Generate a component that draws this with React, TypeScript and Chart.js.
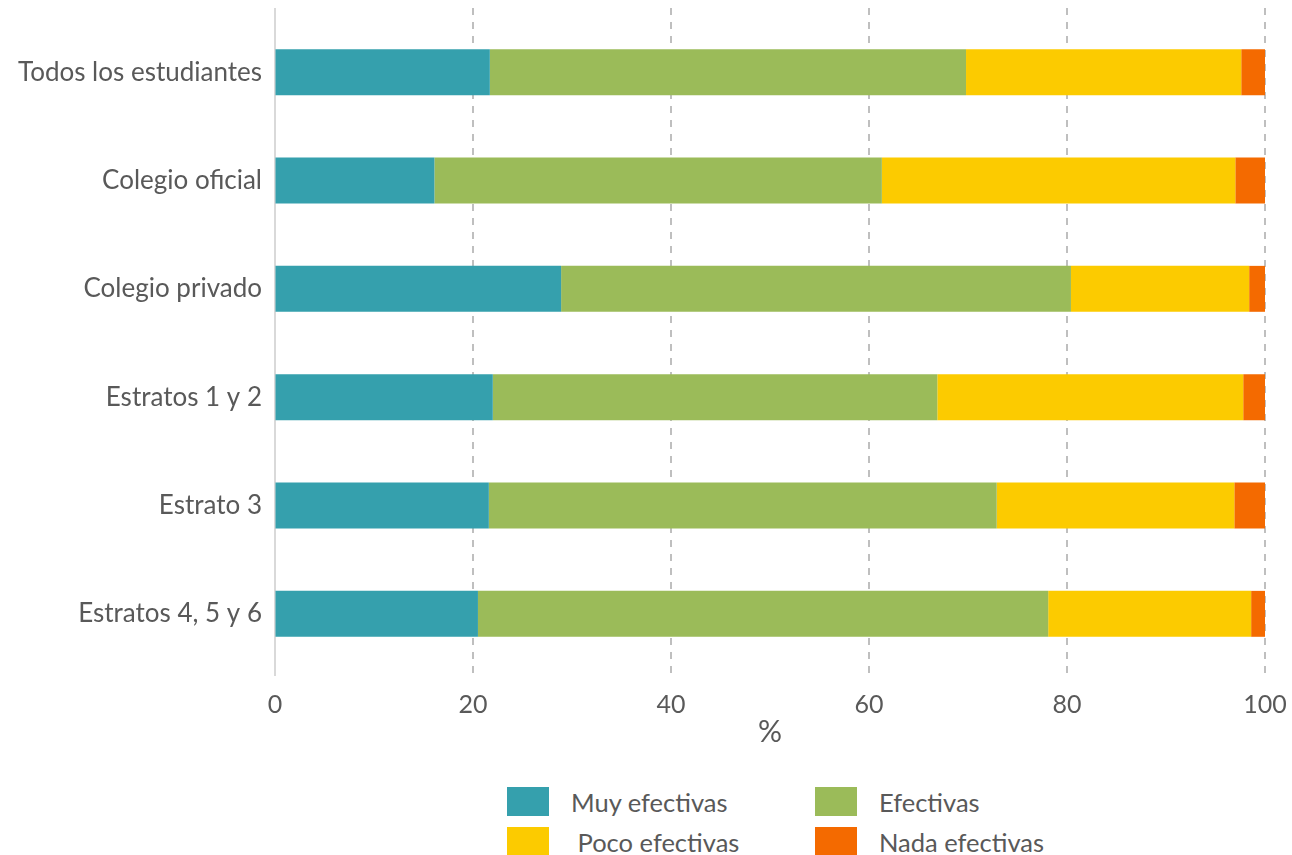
import React, { useEffect, useRef } from "react";
import { Chart, registerables } from "chart.js";

Chart.register(...registerables);

const categories = [
  "Todos los estudiantes",
  "Colegio oficial",
  "Colegio privado",
  "Estratos 1 y 2",
  "Estrato 3",
  "Estratos 4, 5 y 6",
];
const muyEfectivas = [21.7, 16.1, 28.9, 22.0, 21.6, 20.5];
const efectivas = [48.1, 45.2, 51.5, 44.9, 51.3, 57.6];
const pocoEfectivas = [27.8, 35.7, 18.0, 30.9, 24.0, 20.5];
const nadaEfectivas = [2.4, 3.0, 1.6, 2.2, 3.1, 1.4];
const xTicks = [0, 20, 40, 60, 80, 100];

const seriesNames = ["Muy efectivas", "Efectivas", " Poco efectivas", "Nada efectivas"];
const seriesColors = ["#35A0AD", "#9BBB59", "#FCCB00", "#F46A00"];

const FONT = "Lato, 'Open Sans', sans-serif";
const TEXT = "#595959";

const gridPlugin = {
  id: "customGrid",
  beforeDatasetsDraw(chart: any) {
    const { ctx, chartArea, scales } = chart;
    const xs = scales.x;
    ctx.save();
    xTicks.forEach((v) => {
      const px = Math.round(xs.getPixelForValue(v));
      ctx.beginPath();
      if (v === 0) {
        ctx.setLineDash([]);
        ctx.strokeStyle = "#D9D9D9";
      } else {
        ctx.setLineDash([7, 7]);
        ctx.strokeStyle = "#BFBFBF";
      }
      ctx.lineWidth = 2;
      ctx.moveTo(px, 8);
      ctx.lineTo(px, chartArea.bottom + 8);
      ctx.stroke();
    });
    ctx.restore();
  },
};

export default function App() {
  const ref = useRef<HTMLCanvasElement | null>(null);

  useEffect(() => {
    if (!ref.current) return;
    const data = [muyEfectivas, efectivas, pocoEfectivas, nadaEfectivas];
    const chart = new Chart(ref.current, {
      type: "bar",
      data: {
        labels: categories,
        datasets: data.map((d, i) => ({
          label: seriesNames[i],
          data: d,
          backgroundColor: seriesColors[i],
          borderWidth: 0,
          barPercentage: 0.424,
          categoryPercentage: 1,
        })),
      },
      options: {
        indexAxis: "y",
        responsive: false,
        animation: false,
        layout: { padding: { top: 18, right: 27, left: 0, bottom: 0 } },
        plugins: {
          legend: { display: false },
          tooltip: { enabled: false },
        },
        scales: {
          x: {
            stacked: true,
            min: 0,
            max: 100,
            afterBuildTicks: (scale: any) => {
              scale.ticks = xTicks.map((v) => ({ value: v }));
            },
            afterFit: (scale: any) => {
              scale.height = 82;
            },
            grid: {
              display: true,
              drawOnChartArea: false,
              drawTicks: true,
              tickLength: 22,
              color: "rgba(0,0,0,0)",
            },
            border: { display: false },
            ticks: {
              padding: 0,
              color: TEXT,
              font: { family: FONT, size: 25 },
            },
            title: {
              display: true,
              text: "%",
              color: TEXT,
              padding: { top: 0, bottom: 0 },
              font: { family: FONT, size: 30 },
            },
          },
          y: {
            stacked: true,
            afterFit: (scale: any) => {
              scale.width = 275;
            },
            grid: {
              display: true,
              drawOnChartArea: false,
              drawTicks: true,
              tickLength: 13,
              color: "rgba(0,0,0,0)",
            },
            border: { display: false },
            ticks: {
              padding: 0,
              color: TEXT,
              font: { family: FONT, size: 26 },
            },
          },
        },
      },
      plugins: [gridPlugin],
    });
    return () => chart.destroy();
  }, []);

  const legendItem = (i: number, left: number, top: number) => (
    <div
      key={i}
      style={{
        position: "absolute",
        left,
        top,
        display: "flex",
        alignItems: "center",
        height: 29,
      }}
    >
      <div style={{ width: 42, height: 29, background: seriesColors[i] }} />
      <span
        style={{
          marginLeft: 22,
          whiteSpace: "pre",
          fontFamily: FONT,
          fontSize: 25.5,
          color: TEXT,
        }}
      >
        {seriesNames[i]}
      </span>
    </div>
  );

  return (
    <div
      style={{
        position: "fixed",
        left: 0,
        top: 0,
        width: 1292,
        height: 855,
        background: "#fff",
        overflow: "hidden",
      }}
    >
      <canvas ref={ref} width={1292} height={750} style={{ display: "block" }} />
      {legendItem(0, 507, 787)}
      {legendItem(1, 815, 787)}
      {legendItem(2, 507, 827)}
      {legendItem(3, 815, 827)}
    </div>
  );
}
